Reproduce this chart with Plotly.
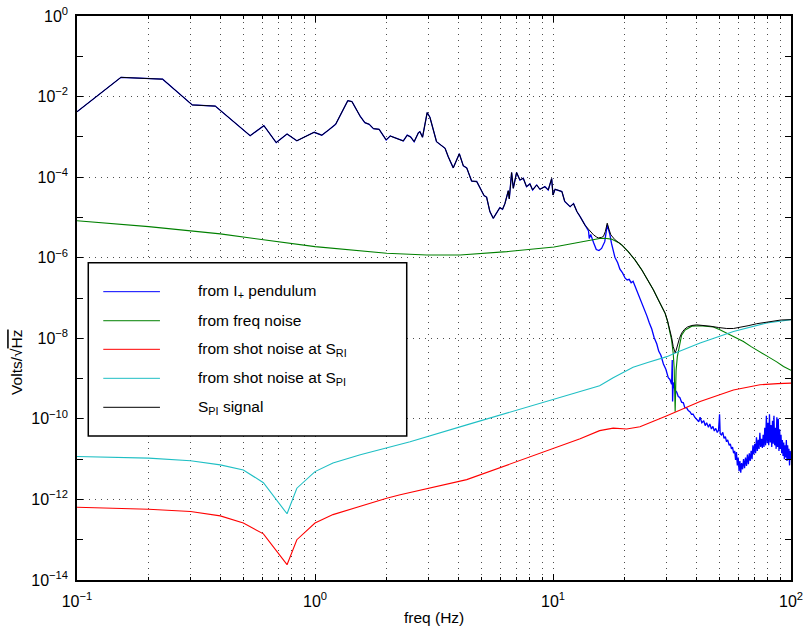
import plotly.graph_objects as go

FONT = "Liberation Sans, Arial, Helvetica, sans-serif"

# Pendulum contribution (I+), Volts/sqrt(Hz) vs frequency
pend_f = [0.1, 0.153, 0.229, 0.305, 0.381, 0.534, 0.610, 0.687, 0.763, 0.839,
          0.992, 1.068, 1.144, 1.221, 1.373, 1.43, 1.55, 1.62, 1.69, 1.76,
          1.86, 1.99, 2.07, 2.20, 2.35, 2.44, 2.52, 2.61, 2.72, 2.76,
          2.83, 2.96, 3.04, 3.24, 3.46, 3.52, 3.63, 3.81, 4.04, 4.12,
          4.20, 4.34, 4.55, 4.78, 4.93, 5.00, 5.13, 5.26, 5.43, 5.61,
          5.80, 5.98, 6.14, 6.28, 6.49, 6.55, 6.70, 6.81, 7.03, 7.26,
          7.50, 7.74, 8.00, 8.21, 8.54, 8.81, 9.25, 9.55, 9.87, 10.0,
          10.2, 10.5, 10.9, 11.2, 11.8, 12.2, 12.6, 13.0, 13.6, 14.1,
          14.2, 14.4, 14.8, 15.2, 15.6, 16.0, 16.5, 16.9, 17.3, 17.6,
          18.2, 18.7, 19.1, 19.6, 20.1, 20.5, 20.9, 21.3, 21.7, 22.1,
          22.6, 23.2, 23.8, 24.3, 24.8, 25.4, 26.0, 26.6, 27.3, 27.8,
          28.4, 29.1, 29.8, 30.5, 31.0, 31.5, 31.7, 31.8, 32.0, 32.5,
          33.1, 33.6, 34.1, 34.7, 35.3, 35.8, 36.4, 37.0, 37.6, 38.2,
          38.8, 39.4, 40.0, 41.0, 41.5, 42.2, 43.0, 43.6, 44.2, 45.0,
          45.6, 46.3, 47.0, 47.6, 48.3, 49.0, 49.6, 50.1, 50.4, 51.0,
          51.7, 52.3, 53.0, 53.6, 54.2, 55.0, 55.6, 56.2, 56.8, 57.4,
          58.0, 58.5, 59.0, 59.5, 60.0, 60.5, 61.0, 61.5, 62.0, 62.6,
          63.2, 63.8, 64.4, 65.0, 65.6, 66.2, 66.8, 67.4, 68.0, 68.6,
          69.2, 69.8, 70.4, 71.0, 71.6, 72.2, 72.8, 73.4, 74.0, 74.6,
          75.2, 75.8, 76.4, 77.0, 77.6, 78.2, 78.8, 79.4, 80.0, 80.6,
          81.2, 81.8, 82.4, 83.0, 83.6, 84.2, 84.8, 85.4, 86.0, 86.6,
          87.2, 87.8, 88.4, 89.0, 89.6, 90.2, 90.8, 91.4, 92.0, 92.6,
          93.2, 93.8, 94.4, 95.0, 95.6, 96.2, 96.8, 97.4, 98.0, 98.6,
          99.2, 100.0]
pend_v = [4.2e-3, 3.0e-2, 2.7e-2, 6.2e-3, 5.8e-3, 1.07e-3, 1.9e-3, 7.2e-4, 1.18e-3, 8.0e-4,
          1.3e-3, 1.1e-3, 1.5e-3, 2.05e-3, 7.9e-3, 7.5e-3, 3.2e-3, 2.25e-3, 2.05e-3, 1.6e-3,
          1.54e-3, 8.4e-4, 1.05e-3, 9.0e-4, 7.9e-4, 1.1e-3, 1.0e-3, 7.6e-4, 1.27e-3, 1.35e-3,
          9.8e-4, 4.0e-3, 3.06e-3, 7.6e-4, 5.7e-4, 5.2e-4, 3.2e-4, 1.7e-4, 3.8e-4, 2.6e-4,
          1.9e-4, 1.7e-4, 8.0e-5, 7.8e-5, 5.6e-5, 4.5e-5, 3.5e-5, 3.2e-5, 1.4e-5, 9.5e-6,
          1.35e-5, 1.75e-5, 1.6e-5, 2.2e-5, 4.6e-5, 2.9e-5, 1.3e-4, 5.3e-5, 1.3e-4, 8.5e-5,
          9.4e-5, 5.8e-5, 6.8e-5, 4.8e-5, 6.4e-5, 5.0e-5, 5.8e-5, 4.8e-5, 9.2e-5, 3.6e-5,
          5.0e-5, 4.8e-5, 4.4e-5, 2.5e-5, 1.85e-5, 2.2e-5, 1.4e-5, 1.05e-5, 6.5e-6, 4.6e-6,
          3.0e-6, 3.8e-6, 2.4e-6, 1.6e-6, 1.5e-6, 1.7e-6, 2.5e-6, 6.5e-6, 4.0e-6, 2.3e-6,
          1.03e-6, 7.5e-7, 5.2e-7, 4.2e-7, 3.1e-7, 2.8e-7, 2.9e-7, 2.4e-7, 2.6e-7, 2.0e-7,
          1.4e-7, 9.0e-8, 6.8e-8, 4.8e-8, 3.6e-8, 2.4e-8, 1.7e-8, 1.05e-8, 7.2e-9, 4.8e-9,
          3.8e-9, 2.3e-9, 1.7e-9, 1.05e-9, 9.5e-10, 7.2e-10, 2.9e-9, 2.7e-10, 8.0e-10, 5.2e-10,
          4.6e-10, 3.6e-10, 3.4e-10, 2.6e-10, 2.5e-10, 1.9e-10, 1.9e-10, 1.6e-10, 1.5e-10, 1.3e-10,
          1.3e-10, 1.1e-10, 1.0e-10, 8.5e-11, 1.1e-10, 8.0e-11, 9.0e-11, 6.8e-11, 8.0e-11, 6.2e-11,
          7.5e-11, 5.6e-11, 6.5e-11, 5.0e-11, 5.8e-11, 4.6e-11, 5.2e-11, 1.3e-10, 4.3e-11, 4.0e-11,
          4.6e-11, 3.3e-11, 3.6e-11, 2.7e-11, 3.0e-11, 2.2e-11, 2.4e-11, 1.8e-11, 2.0e-11, 1.4e-11,
          1.6e-11, 9.5e-12, 1.5e-11, 7.0e-12, 1.1e-11, 5.0e-12, 9.0e-12, 4.6e-12, 8.0e-12, 5.6e-12,
          1.0e-11, 6.0e-12, 1.1e-11, 6.8e-12, 1.3e-11, 7.5e-12, 1.4e-11, 9.0e-12, 1.6e-11, 1.0e-11,
          2.2e-11, 1.3e-11, 2.4e-11, 1.4e-11, 3.5e-11, 1.6e-11, 3.0e-11, 1.8e-11, 4.5e-11, 2.0e-11,
          3.2e-11, 1.9e-11, 4.0e-11, 2.0e-11, 6.0e-11, 2.2e-11, 1.2e-10, 2.5e-11, 8.0e-11, 2.2e-11,
          1.3e-10, 2.6e-11, 7.0e-11, 2.0e-11, 9.0e-11, 2.4e-11, 1.2e-10, 2.2e-11, 6.0e-11, 1.8e-11,
          1.1e-10, 2.0e-11, 1.0e-10, 1.6e-11, 5.5e-11, 1.8e-11, 4.0e-11, 1.4e-11, 3.0e-11, 1.2e-11,
          2.6e-11, 1.0e-11, 2.2e-11, 1.1e-11, 3.0e-11, 9.0e-12, 2.2e-11, 1.0e-11, 1.8e-11, 7.0e-12,
          1.6e-11, 1.0e-11]

# Frequency-noise contribution
freq_f = [0.1, 0.2, 0.4, 0.63, 1.0, 2.0, 2.95, 4.07, 6.4, 10.1,
          13.4, 14.4, 15.7, 16.5, 17.6, 18.8, 19.4, 20.7, 22.1, 23.6,
          25.2, 26.4, 27.7, 28.6, 29.6, 30.3, 31.0, 31.5, 32.0, 32.3,
          32.6, 32.9, 33.3, 34.2, 34.7, 35.9, 38.3, 41.5, 44.0, 47.2,
          50.0, 53.7, 58.0, 63.1, 68.0, 74.1, 80.0, 87.1, 93.0, 100.0]
freq_v = [8.3e-6, 5.9e-6, 3.9e-6, 2.75e-6, 1.88e-6, 1.29e-6, 1.17e-6, 1.17e-6, 1.42e-6, 1.85e-6,
          2.5e-6, 2.8e-6, 3.0e-6, 3.05e-6, 2.9e-6, 2.4e-6, 2.1e-6, 1.42e-6, 8.8e-7, 5.0e-7,
          2.6e-7, 1.6e-7, 9.0e-8, 6.2e-8, 4.1e-8, 2.6e-8, 1.5e-8, 9.0e-9, 4.2e-9, 1.8e-9,
          1.5e-10, 1.6e-9, 3.5e-9, 9.1e-9, 1.2e-8, 1.6e-8, 2.0e-8, 2.05e-8, 2.0e-8, 1.9e-8,
          1.65e-8, 1.34e-8, 1.05e-8, 8.3e-9, 6.2e-9, 4.7e-9, 3.5e-9, 2.6e-9, 2.0e-9, 1.6e-9]

# Shot noise at S_RI
shot_ri_f = [0.1, 0.2, 0.3, 0.4, 0.5, 0.607, 0.763, 0.839, 1.0, 1.19,
             2.0, 2.28, 4.34, 10.0, 13.0, 15.7, 17.9, 20.4, 23.2, 30.1,
             41.5, 57.3, 74.1, 88.0, 100.0]
shot_ri_v = [6.4e-13, 5.7e-13, 5.0e-13, 3.9e-13, 2.6e-13, 1.4e-13, 2.4e-14, 1.0e-13, 2.6e-13, 4.2e-13,
             1.07e-12, 1.3e-12, 3.1e-12, 1.77e-11, 3.2e-11, 5.1e-11, 5.9e-11, 5.6e-11, 6.4e-11, 1.2e-10,
             2.7e-10, 5.2e-10, 7.0e-10, 7.5e-10, 7.7e-10]

# Shot noise at S_PI
shot_pi_f = [0.1, 0.2, 0.3, 0.4, 0.5, 0.607, 0.763, 0.839, 1.0, 1.19,
             1.55, 2.0, 2.51, 4.34, 8.26, 13.4, 15.7, 17.9, 20.0, 21.7,
             25.0, 30.1, 32.6, 41.5, 57.3, 79.1, 100.0]
shot_pi_v = [1.16e-11, 1.06e-11, 9.1e-12, 7.2e-12, 5.4e-12, 2.6e-12, 4.4e-13, 1.9e-12, 4.9e-12, 8.0e-12,
             1.28e-11, 1.87e-11, 2.7e-11, 7.1e-11, 2.2e-10, 5.2e-10, 6.6e-10, 1.05e-9, 1.5e-9, 1.9e-9,
             2.5e-9, 3.5e-9, 4.3e-9, 7.6e-9, 1.47e-8, 2.4e-8, 2.9e-8]

# S_PI signal: follows the pendulum term below 14 Hz, then the total noise above
sig_hi_f = [14.1, 14.5, 14.8, 15.2, 15.5, 16.0, 16.3, 16.6, 16.9, 17.2,
            17.5, 18.2, 19.4, 20.7, 22.1, 23.6, 25.2, 26.4, 27.7, 28.6,
            29.6, 30.3, 31.0, 31.5, 32.0, 32.3, 32.6, 32.9, 33.3, 34.0,
            34.7, 35.6, 36.7, 38.3, 40.2, 42.9, 45.7, 49.6, 53.7, 57.3,
            61.1, 66.0, 71.8, 78.0, 84.3, 91.0, 100.0]
sig_hi_v = [5.1e-6, 4.2e-6, 3.7e-6, 3.3e-6, 3.1e-6, 3.2e-6, 3.4e-6, 4.5e-6, 7.2e-6, 5.0e-6,
            3.7e-6, 2.8e-6, 2.1e-6, 1.42e-6, 8.8e-7, 5.0e-7, 2.6e-7, 1.6e-7, 9.0e-8, 6.3e-8,
            4.2e-8, 2.7e-8, 1.6e-8, 1.05e-8, 6.2e-9, 5.0e-9, 4.4e-9, 5.0e-9, 6.5e-9, 1.0e-8,
            1.34e-8, 1.65e-8, 1.9e-8, 2.08e-8, 2.15e-8, 2.1e-8, 2.0e-8, 1.85e-8, 1.75e-8, 1.75e-8,
            1.85e-8, 2.05e-8, 2.3e-8, 2.5e-8, 2.7e-8, 2.85e-8, 2.9e-8]

n_low = len([f for f in pend_f if f < sig_hi_f[0]])
sig_f = pend_f[:n_low] + sig_hi_f
sig_v = pend_v[:n_low] + sig_hi_v

legend_labels = ["from I<sub>+</sub> pendulum",
                 "from freq noise",
                 "from shot noise at S<sub>RI</sub>",
                 "from shot noise at S<sub>PI</sub>",
                 "S<sub>PI</sub> signal"]
colors = ["#0000FF", "#008000", "#FF0000", "#1FBFC4", "#000000"]

x_major = [0.1, 1, 10, 100]
x_major_text = ["10<sup>\u22121</sup>", "10<sup>0</sup>", "10<sup>1</sup>", "10<sup>2</sup>"]
y_major_exp = [0, -2, -4, -6, -8, -10, -12, -14]
y_minor_exp = [-1, -3, -5, -7, -9, -11, -13]

x_minor = [m * 10.0 ** d for d in (-1, 0, 1) for m in range(2, 10)]

fig = go.Figure()
series = [(pend_f, pend_v, 1.3), (freq_f, freq_v, 1.1), (shot_ri_f, shot_ri_v, 1.1),
          (shot_pi_f, shot_pi_v, 1.1), (sig_f, sig_v, 1.0)]
for (fx, fy, w), c in zip(series, colors):
    fig.add_trace(go.Scatter(x=fx, y=fy, mode="lines", showlegend=False,
                             line=dict(color=c, width=w)))

grid_style = dict(gridcolor="#4d4d4d", gridwidth=1, griddash="1px,5px")

fig.update_layout(
    width=804, height=632,
    margin=dict(l=77, r=13, t=16, b=52),
    paper_bgcolor="white", plot_bgcolor="white",
    font=dict(family=FONT, size=15.5, color="black"),
    xaxis=dict(
        type="log", range=[-1, 2], tickmode="array", automargin=False,
        tickvals=x_major, ticktext=x_major_text,
        ticks="inside", ticklen=6, tickcolor="black", tickwidth=1,
        showline=True, linecolor="black", linewidth=1.5, mirror="ticks",
        showgrid=True, zeroline=False, ticklabelstandoff=6,
        tickfont=dict(size=16),
        minor=dict(tickvals=x_minor, ticks="inside", ticklen=3,
                   tickcolor="black", showgrid=True, **grid_style),
        **grid_style,
    ),
    yaxis=dict(
        type="log", range=[-14, 0], tickmode="array", automargin=False,
        tickvals=[10.0 ** e for e in y_major_exp],
        ticktext=["10<sup>%s</sup>" % (str(e).replace("-", "\u2212")) for e in y_major_exp],
        ticks="inside", ticklen=6, tickcolor="black", tickwidth=1,
        showline=True, linecolor="black", linewidth=1.5, mirror="ticks",
        showgrid=True, zeroline=False, ticklabelstandoff=4,
        tickfont=dict(size=16),
        minor=dict(tickvals=[10.0 ** e for e in y_minor_exp], ticks="inside",
                   ticklen=6, tickcolor="black", showgrid=False),
        **grid_style,
    ),
)

# Axis titles
fig.add_annotation(text="freq (Hz)", xref="paper", yref="paper", x=0.5, y=-0.067,
                   xanchor="center", yanchor="middle", showarrow=False,
                   font=dict(size=15.5))
fig.add_annotation(text="Volts/\u221a<span style='text-decoration:overline'>Hz</span>",
                   xref="paper", yref="paper", x=-0.084, y=0.385, textangle=-90,
                   xanchor="center", yanchor="middle", showarrow=False,
                   font=dict(size=15.5))

# Legend box drawn on top of the curves
box_x0, box_x1, box_y0, box_y1 = 0.0158, 0.4618, 0.2553, 0.5626
fig.add_shape(type="rect", xref="paper", yref="paper", x0=box_x0, x1=box_x1,
              y0=box_y0, y1=box_y1, fillcolor="white",
              line=dict(color="black", width=1.5), layer="above")
row_y = [0.5112, 0.4597, 0.4090, 0.3576, 0.3062]
for lab, c, yy in zip(legend_labels, colors, row_y):
    fig.add_shape(type="line", xref="paper", yref="paper", x0=0.0368, x1=0.1162,
                  y0=yy, y1=yy, line=dict(color=c, width=1), layer="above")
    fig.add_annotation(text=lab, xref="paper", yref="paper", x=0.1667, y=yy,
                       xanchor="left", yanchor="middle", showarrow=False,
                       font=dict(size=15.5))

fig.write_html("out.html")
